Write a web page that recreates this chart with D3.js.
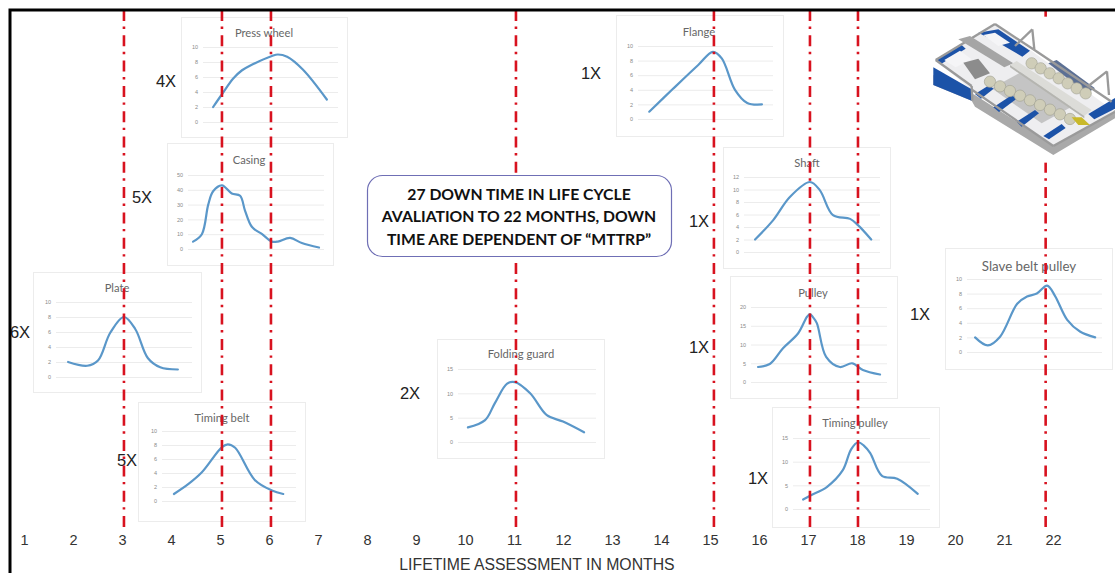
<!DOCTYPE html>
<html>
<head>
<meta charset="utf-8">
<script src="https://cdn.jsdelivr.net/npm/d3@7"></script>
<style>
  html, body { margin: 0; background: #fff; overflow: hidden; }
  svg { display: block; }
</style>
</head>
<body>
<div id="chart"></div>
<script>
// months on the main axis
const months = d3.range(1, 23);
// months with a down time (red lines)
const downMonths = [3.04, 5.04, 6.04, 11.04, 15.08, 17.04, 18.02, 21.85];

const pressWheelMonths = [4.86, 5.04, 5.27, 5.45, 5.61, 6.06, 6.18, 6.37, 6.69, 7.18];
const pressWheelValues = [2, 3.7, 5.8, 6.9, 7.5, 8.8, 9, 8.7, 7, 3];

const casingMonths = [4.45, 4.63, 4.76, 4.86, 5.04, 5.24, 5.41, 5.51, 5.65, 5.86, 6.06, 6.18, 6.43, 6.67, 7.02];
const casingValues = [5, 10, 30, 39, 43, 37.5, 36, 26, 15, 10, 5, 5, 7.5, 4, 1];

const plateMonths = [1.9, 2.29, 2.51, 2.76, 3.04, 3.27, 3.53, 3.78, 4.14];
const plateValues = [2, 1.5, 2.2, 5.9, 8, 6.4, 2.5, 1.3, 1];

const timingBeltMonths = [4.06, 4.35, 4.63, 5.04, 5.16, 5.31, 5.71, 6.06, 6.29];
const timingBeltValues = [1, 2.4, 4.1, 7.7, 8.1, 7.6, 3, 1.5, 1];

const foldingGuardMonths = [10.06, 10.41, 10.61, 10.86, 11.02, 11.33, 11.67, 12, 12.43];
const foldingGuardValues = [3, 4.5, 8, 12, 12.3, 10, 5.5, 4.2, 2];

const flangeMonths = [13.76, 14.24, 14.76, 15.06, 15.24, 15.51, 15.76, 16.06];
const flangeValues = [1, 4.1, 7.4, 9.2, 8.3, 4, 2.2, 2];

const shaftMonths = [15.92, 16.29, 16.63, 17.04, 17.24, 17.51, 17.86, 18.02, 18.29];
const shaftValues = [2, 5.1, 8.8, 11.2, 9.9, 5.9, 5.3, 4.3, 2];

const pulleyMonths = [15.98, 16.22, 16.49, 16.8, 16.98, 17.04, 17.1, 17.18, 17.37, 17.65, 17.9, 18.12, 18.47];
const pulleyValues = [4, 4.8, 9, 13, 17.4, 18.1, 17.3, 15.7, 6.7, 4, 5, 3.2, 2];

const timingPulleyMonths = [16.9, 17.04, 17.39, 17.71, 17.88, 18.02, 18.14, 18.27, 18.51, 18.82, 19.24];
const timingPulleyValues = [2, 2.8, 4.7, 8.2, 12.6, 14.1, 13.4, 11.8, 7, 6.4, 3.2];

const slaveBeltMonths = [20.41, 20.67, 20.92, 21.27, 21.47, 21.67, 21.88, 22.04, 22.29, 22.55, 22.86];
const slaveBeltValues = [2, 0.9, 2.1, 6.6, 7.6, 8, 9.1, 7.7, 4.4, 2.8, 2];

const width = 1115, height = 573;

const svg = d3.select("#chart").append("svg")
    .attr("width", width)
    .attr("height", height);

const x = d3.scaleLinear().domain([1, 22]).range([24, 1053]);

// small charts: box, grid area, y ticks, then the series
const panels = [
    { title: "Press wheel", box: [181, 17, 347, 137], grid: [203, 338, 47, 122], ticks: [0, 2, 4, 6, 8, 10], tx: 264, ty: 32, mx: pressWheelMonths, my: pressWheelValues, mult: "4X", lx: 166, ly: 81 },
    { title: "Casing", box: [167, 143, 333, 265], grid: [188, 324, 175, 249], ticks: [0, 10, 20, 30, 40, 50], tx: 249, ty: 159, mx: casingMonths, my: casingValues, mult: "5X", lx: 142, ly: 197 },
    { title: "Plate", box: [33, 272, 201, 392], grid: [56, 192, 302, 377], ticks: [0, 2, 4, 6, 8, 10], tx: 117, ty: 287, mx: plateMonths, my: plateValues, mult: "6X", lx: 20, ly: 332 },
    { title: "Timing belt", box: [138, 402, 305, 521], grid: [162, 296, 431, 501], ticks: [0, 2, 4, 6, 8, 10], tx: 222, ty: 417, mx: timingBeltMonths, my: timingBeltValues, mult: "5X", lx: 127, ly: 460 },
    { title: "Folding guard", box: [437, 339, 604, 458], grid: [458, 596, 369, 442], ticks: [0, 5, 10, 15], tx: 521, ty: 353, mx: foldingGuardMonths, my: foldingGuardValues, mult: "2X", lx: 410, ly: 393 },
    { title: "Flange", box: [616, 15, 783, 136], grid: [638, 773, 46, 119], ticks: [0, 2, 4, 6, 8, 10], tx: 699, ty: 31, mx: flangeMonths, my: flangeValues, mult: "1X", lx: 591, ly: 73 },
    { title: "Shaft", box: [723, 147, 890, 268], grid: [744, 880, 177, 252], ticks: [0, 2, 4, 6, 8, 10, 12], tx: 807, ty: 162, mx: shaftMonths, my: shaftValues, mult: "1X", lx: 699, ly: 221 },
    { title: "Pulley", box: [730, 276, 897, 398], grid: [751, 887, 307, 382], ticks: [0, 5, 10, 15, 20], tx: 813, ty: 292, mx: pulleyMonths, my: pulleyValues, mult: "1X", lx: 699, ly: 347 },
    { title: "Timing pulley", box: [772, 407, 939, 527], grid: [793, 930, 438, 509], ticks: [0, 5, 10, 15], tx: 855, ty: 422, mx: timingPulleyMonths, my: timingPulleyValues, mult: "1X", lx: 758, ly: 478 },
    { title: "Slave belt pulley", box: [945, 248, 1112, 369], grid: [967, 1102, 279, 352], ticks: [0, 2, 4, 6, 8, 10], tx: 1029, ty: 266, mx: slaveBeltMonths, my: slaveBeltValues, mult: "1X", lx: 920, ly: 314, titleSize: 13.3 }
];

panels.forEach(p => {
    const g = svg.append("g");
    g.append("rect")
        .attr("x", p.box[0] + 0.5)
        .attr("y", p.box[1] + 0.5)
        .attr("width", p.box[2] - p.box[0])
        .attr("height", p.box[3] - p.box[1])
        .attr("fill", "#fff")
        .attr("stroke", "#ececec");

    const y = d3.scaleLinear()
        .domain([0, d3.max(p.ticks)])
        .range([p.grid[3], p.grid[2]]);

    const axis = g.append("g")
        .attr("transform", "translate(" + p.grid[0] + ",0)")
        .call(d3.axisLeft(y)
            .tickValues(p.ticks)
            .tickSize(p.grid[0] - p.grid[1])
            .tickPadding(5));
    axis.select(".domain").remove();
    axis.selectAll("line").attr("stroke", "#ececec");
    axis.selectAll("text")
        .attr("fill", "#8a8a8a")
        .style("font", "5.5px 'Liberation Sans'");

    g.append("text")
        .attr("x", p.tx)
        .attr("y", p.ty)
        .attr("text-anchor", "middle")
        .attr("dominant-baseline", "central")
        .attr("fill", "#666")
        .style("font", (p.titleSize || 11.2) + "px Lato")
        .text(p.title);

    const line = d3.line()
        .x(d => x(d[0]))
        .y(d => y(d[1]))
        .curve(d3.curveCatmullRom.alpha(0.5));

    g.append("path")
        .attr("d", line(d3.zip(p.mx, p.my)))
        .attr("fill", "none")
        .attr("stroke", "#5a97c9")
        .attr("stroke-width", 2.2)
        .attr("stroke-linecap", "round");

    // how many times the part failed
    svg.append("text")
        .attr("x", p.lx)
        .attr("y", p.ly)
        .attr("text-anchor", "middle")
        .attr("dominant-baseline", "central")
        .attr("fill", "#222")
        .style("font", "16.5px 'Liberation Sans'")
        .text(p.mult);
});

// red lines on top of the small charts
svg.append("g")
    .selectAll("line")
    .data(downMonths)
    .join("line")
    .attr("x1", d => x(d))
    .attr("x2", d => x(d))
    .attr("y1", 10)
    .attr("y2", 528)
    .attr("stroke", "#d8121f")
    .attr("stroke-width", 2.6)
    .attr("stroke-dasharray", "11 5.5 2.4 6.4");

// frame, top and left only
svg.append("path")
    .attr("d", "M10,573V10H1115")
    .attr("fill", "none")
    .attr("stroke", "#000")
    .attr("stroke-width", 3);

// main axis
const axisBottom = svg.append("g")
    .attr("transform", "translate(0,533)")
    .call(d3.axisBottom(x).tickValues(months).tickFormat(d3.format("d")).tickSize(0).tickPadding(2));
axisBottom.select(".domain").remove();
axisBottom.selectAll("text")
    .attr("fill", "#333")
    .style("font", "14.5px 'Liberation Sans'");

svg.append("text")
    .attr("x", 537)
    .attr("y", 569.5)
    .attr("text-anchor", "middle")
    .attr("fill", "#333")
    .style("font", "15.8px 'Liberation Sans'")
    .text("LIFETIME ASSESSMENT IN MONTHS");

// note in the middle
svg.append("rect")
    .attr("x", 367.5)
    .attr("y", 175.5)
    .attr("width", 304)
    .attr("height", 81)
    .attr("rx", 15)
    .attr("fill", "#fff")
    .attr("stroke", "#6f6fb5")
    .attr("stroke-width", 1.2);

const note = ["27 DOWN TIME IN LIFE CYCLE", "AVALIATION TO 22 MONTHS, DOWN", "TIME ARE DEPENDENT OF \u201CMTTRP\u201D"];
svg.append("g")
    .selectAll("text")
    .data(note)
    .join("text")
    .attr("x", 519)
    .attr("y", (d, i) => 193.5 + i * 22.3)
    .attr("text-anchor", "middle")
    .attr("dominant-baseline", "central")
    .attr("fill", "#111")
    .style("font", "bold 15.75px Lato")
    .text(d => d);

// machine picture, rough drawing of the assembly line
svg.append("filter").attr("id", "soft")
    .append("feGaussianBlur").attr("stdDeviation", 1.6);

const machineBg = svg.append("g").attr("transform", "translate(915,10) scale(0.3333)");
machineBg.append("rect")
    .attr("x", 30).attr("y", 20).attr("width", 570).attr("height", 438)
    .attr("fill", "#fff");

const machine = machineBg.append("g").attr("filter", "url(#soft)");

const shapes = [
    ["#a9a9a9", "55,225 170,272 180,290 415,435 600,325 600,300 415,405 180,255 55,195"],
    ["#eeeef0", "62,150 240,42 600,305 415,408 170,240"],
    ["#c4c4c4", "230,235 330,180 470,290 380,340"],
    ["#1f52a8", "55,172 170,238 170,272 55,225"],
    ["#1f52a8", "190,68 250,58 345,122 322,140 262,105"],
    ["#f5f5f7", "205,75 240,68 285,98 250,108"],
    ["#1f52a8", "62,150 140,105 152,116 78,162"],
    ["#f5f5f7", "88,150 135,122 170,148 122,172"],
    ["#1f52a8", "180,252 222,226 236,236 198,266"],
    ["#1f52a8", "235,292 290,256 305,266 252,306"],
    ["#1f52a8", "305,335 360,300 372,310 320,350"],
    ["#1f52a8", "385,378 440,342 452,354 402,388"],
    ["#1f52a8", "520,312 600,264 600,296 538,328"],
    ["#5c6f94", "400,160 425,150 540,235 515,250"],
    ["#8c8c8c", "145,158 190,146 225,190 180,208"]
];
machine.selectAll("polygon.part")
    .data(shapes)
    .join("polygon")
    .attr("class", "part")
    .attr("fill", d => d[0])
    .attr("points", d => d[1]);

// frame bars
const bars = [
    [62, 150, 240, 42], [240, 42, 355, 118], [62, 150, 170, 228], [170, 228, 172, 272],
    [172, 240, 415, 408], [415, 408, 600, 305], [355, 118, 590, 275],
    [300, 108, 352, 58], [352, 58, 358, 118], [520, 228, 576, 184], [576, 184, 582, 255]
];
machine.selectAll("line")
    .data(bars)
    .join("line")
    .attr("x1", d => d[0]).attr("y1", d => d[1])
    .attr("x2", d => d[2]).attr("y2", d => d[3])
    .attr("stroke", "#9a9a9a")
    .attr("stroke-width", 7);

// cam units, two rows
const camsFront = d3.range(9).map(i => [225 + i * 30, 215 + i * 14]);
const camsBack = d3.range(7).map(i => [350 + i * 27, 160 + i * 15]);
machine.selectAll("circle")
    .data(camsFront.concat(camsBack))
    .join("circle")
    .attr("cx", d => d[0]).attr("cy", d => d[1])
    .attr("r", 17)
    .attr("fill", "#cfcdb8")
    .attr("stroke", "#a5a596")
    .attr("stroke-width", 2);

// top beams over the cams
const beams = [
    ["#a5a5a5", "130,88 165,78 295,160 268,172"],
    ["#dcdcd8", "285,165 305,153 530,300 508,318"],
    ["#b5b5b0", "285,172 508,325 508,318 285,165"],
    ["#c9b92c", "470,322 500,322 525,345 490,345"]
];
machine.selectAll("polygon.beam")
    .data(beams)
    .join("polygon")
    .attr("class", "beam")
    .attr("fill", d => d[0])
    .attr("points", d => d[1]);
</script>
</body>
</html>
